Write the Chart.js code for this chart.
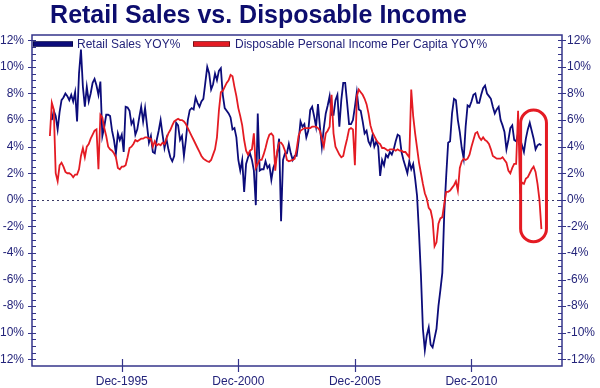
<!DOCTYPE html>
<html><head><meta charset="utf-8">
<script src="https://cdn.jsdelivr.net/npm/chart.js@4/dist/chart.umd.min.js"></script>
<style>html,body{margin:0;padding:0;background:#fff}#wrap{width:600px;height:388px;position:relative}</style>
</head><body><div id="wrap"><canvas id="c" width="600" height="388"></canvas></div>
<script>
const chartTitle = 'Retail Sales vs. Disposable Income';
const seriesNames = ['Retail Sales YOY%', 'Disposable Personal Income Per Capita YOY%'];
const firstMonth = 'Nov-1992';
// monthly values, Nov-1992 .. Dec-2013
const retailSales = [
  null, 6.0,
  6.7, 6.3, 5.3, 6.6, 7.5, 7.7, 8.0, 7.8, 7.5, 7.9, 7.4, 8.1,
  5.9, 9.5, 11.3, 8.5, 7.0, 8.5, 7.4, 8.0, 8.8, 9.1, 8.6, 7.9,
  8.9, 4.8, 5.5, 6.4, 6.4, 6.3, 5.2, 4.5, 3.5, 5.0, 4.5, 4.9,
  3.6, 7.0, 6.95, 6.7, 5.7, 6.0, 4.9, 5.3, 6.2, 7.0, 5.9, 6.9,
  5.6, 4.3, 4.8, 3.6, 3.5, 4.5, 5.2, 6.0, 4.9, 3.9, 4.6, 3.8,
  3.2, 2.9, 3.3, 5.8, 5.6, 4.5, 4.8, 3.3, 4.5, 6.0, 6.75, 6.9,
  6.8, 7.7, 7.3, 7.0, 7.4, 7.6, 8.8, 10.0, 9.5, 8.3, 8.7, 9.5,
  9.0, 9.7, 9.9, 7.9, 6.9, 6.7, 6.5, 6.2, 5.3, 5.4, 4.7, 3.0,
  2.2, 3.0, 0.6, 2.7, 3.2, 3.5, 3.0, 2.2, -0.4, 6.5, 2.2, 2.3,
  2.3, 2.9, 2.4, 2.6, 1.5, 2.4, 2.8, 3.5, 4.6, -1.6, 3.0, 3.5,
  3.5, 4.2, 3.5, 3.0, 3.3, 3.3, 4.4, 5.9, 5.5, 5.7, 4.7, 5.2,
  6.75, 7.0, 6.3, 5.5, 7.2, 5.5, 4.0, 5.4, 6.5, 7.1, 7.8, 6.4,
  6.4, 7.5, 7.9, 5.5, 7.5, 8.8, 8.8, 7.3, 5.7, 5.7, 6.0, 7.0,
  8.1, 6.8, 6.7, 5.9, 5.0, 5.2, 4.4, 4.1, 4.8, 4.0, 4.4, 4.0,
  1.8, 3.0, 2.6, 3.4, 3.2, 3.6, 3.4, 3.8, 4.4, 4.9, 4.8, 3.6,
  3.0, 2.5, 2.0, 2.9, 2.3, 2.7, 1.6, 0.3, -2.5, -5.7, -9.7, -11.3,
  -10.2, -9.6, -10.9, -11.1, -10.4, -9.7, -8.0, -6.8, -5.5, -1.0, 1.8, 4.3,
  4.4, 6.5, 7.6, 7.5, 6.0, 5.1, 3.9, 3.1, 5.5, 7.1, 7.0, 7.4,
  7.9, 8.0, 7.3, 7.3, 7.9, 8.4, 8.6, 8.0, 7.8, 7.6, 7.0, 6.5,
  6.8, 7.0, 6.0, 5.6, 5.1, 3.8, 4.5, 5.4, 5.6, 4.5, 4.4, 5.0,
  4.6, 4.1, 3.6, 4.6, 5.3, 5.8, 5.2, 4.6, 3.8, 4.1, 4.2, 4.1
];
const disposableIncome = [
  4.8, 7.3,
  6.8, 2.0, 1.4, 2.6, 2.8, 2.5, 2.1, 2.0, 2.0, 1.9, 1.7, 1.9,
  1.9, 2.3, 3.3, 3.9, 3.2, 4.0, 4.2, 4.6, 4.9, 5.2, 5.3, 2.3,
  6.4, 6.2, 5.4, 4.8, 4.0, 3.8, 3.7, 3.5, 3.2, 2.4, 2.3, 2.5,
  2.5, 2.6, 3.2, 3.9, 4.0, 4.2, 4.5, 4.4, 4.5, 4.6, 4.6, 4.7,
  4.7, 4.6, 4.6, 4.0, 4.4, 4.1, 4.2, 4.1, 4.3, 4.2, 4.6, 5.0,
  5.25, 5.6, 5.9, 6.0, 6.1, 6.0, 6.0, 5.9, 5.7, 5.4, 5.1, 4.8,
  4.5, 4.2, 3.9, 3.6, 3.3, 3.1, 3.0, 2.9, 2.85, 3.0, 3.4, 3.8,
  4.7, 6.7, 8.1, 8.2, 8.5, 8.8, 9.0, 9.4, 9.3, 8.5, 7.8, 6.9,
  6.3, 5.6, 4.5, 3.7, 3.4, 3.7, 3.8, 5.0, 2.4, 2.7, 3.0, 3.0,
  3.4, 3.9, 4.5, 4.9, 5.0, 4.8, 2.2, 3.6, 4.3, 4.3, 4.1, 3.7,
  3.0, 2.9, 2.95, 3.0, 3.1, 3.8, 4.8, 5.2, 5.3, 5.4, 5.4, 5.4,
  5.4, 5.5, 5.5, 5.5, 5.4, 5.2, 4.6, 4.0, 5.0, 5.2, 5.5, 7.9,
  5.0, 4.0, 3.7, 3.4, 3.2, 3.3, 4.0, 4.6, 5.3, 5.4, 5.3, 2.6,
  7.8, 8.3, 8.1, 7.9, 7.6, 7.2, 6.5, 5.6, 5.1, 4.8, 4.5, 4.3,
  4.2, 3.9, 3.9, 3.8, 3.7, 3.8, 3.8, 3.8, 3.7, 3.8, 3.7, 3.7,
  3.6, 3.6, 3.4, 3.2, 8.3, 6.3, 5.0, 3.9, 2.8, 2.0, 1.2, 0.5,
  0.1, -0.6, -0.8, -1.5, -3.5, -3.2, -1.8, -1.4, -1.3, -0.3, 0.6, 0.6,
  0.7, 0.9, 1.1, 1.4, 0.7, 2.4, 2.9, 3.1, 3.0, 3.1, 3.4, 4.0,
  4.5, 5.0, 5.1, 4.7, 4.5, 4.7, 4.5, 4.4, 4.2, 3.8, 3.3, 3.2,
  3.1, 3.1, 3.1, 3.2, 3.0, 2.8, 2.2, 2.0, 2.4, 2.7, 2.7, 6.7,
  0.8, 1.3, 1.2, 1.6, 1.7, 2.0, 2.3, 2.5, 2.1, 1.2, 0.0, -2.2
];
const xTickLabels = ['Dec-1995', 'Dec-2000', 'Dec-2005', 'Dec-2010'];
const yTickValues = [-12, -10, -8, -6, -4, -2, 0, 2, 4, 6, 8, 10, 12];

const MONTHS = ['Jan','Feb','Mar','Apr','May','Jun','Jul','Aug','Sep','Oct','Nov','Dec'];
function monthIndex(lbl){ const p = lbl.split('-'); return (+p[1]) * 12 + MONTHS.indexOf(p[0]); }
const start = monthIndex(firstMonth);
const xTickValues = xTickLabels.map(l => monthIndex(l) - start);
const toPoints = arr => arr.map((v, i) => ({x: i, y: v}));

const NAVY = '#0c0c7a', RED = '#e41b23', AXIS = '#34348a', TEXT = '#23237a';
const FONT = '"Liberation Sans", Arial, sans-serif';
// annotation capsule around the latest readings (data coordinates)
const highlight = {x0: monthIndex('Jan-2013') - start + 0.3, x1: monthIndex('Jan-2014') - start + 1.6, yTop: 6.75, yBottom: -3.15};

const decor = {
  id: 'decor',
  beforeDatasetsDraw(chart) {
    const {ctx, chartArea: a, scales: {y}} = chart;
    const y0 = Math.round(y.getPixelForValue(0)) + 0.5;
    ctx.save();
    ctx.setLineDash([2, 3]);
    ctx.strokeStyle = '#3a3a66';
    ctx.lineWidth = 1;
    ctx.beginPath(); ctx.moveTo(a.left, y0); ctx.lineTo(a.right, y0); ctx.stroke();
    ctx.restore();
  },
  afterDatasetsDraw(chart) {
    const {ctx, chartArea: a, scales: {x, y}} = chart;
    ctx.save();
    // frame
    ctx.strokeStyle = AXIS; ctx.lineWidth = 1.5;
    ctx.strokeRect(a.left, a.top, a.right - a.left, a.bottom - a.top);
    // y tick marks (both sides)
    ctx.lineWidth = 1.2;
    ctx.beginPath();
    for (let v = -12; v <= 12.001; v += 0.5) {
      const py = Math.round(y.getPixelForValue(v)) + 0.5;
      const major = Math.abs(v % 2) < 1e-6;
      ctx.moveTo(a.left - (major ? 4 : 0), py); ctx.lineTo(a.left + 4, py);
      ctx.moveTo(a.right - 4, py); ctx.lineTo(a.right + (major ? 4 : 0), py);
    }
    xTickValues.forEach(v => {
      const px = Math.round(x.getPixelForValue(v)) + 0.5;
      ctx.moveTo(px, a.bottom - 7); ctx.lineTo(px, a.bottom + 6);
    });
    ctx.stroke();
    // legend
    const ly = 44;
    ctx.fillStyle = '#06064a';
    ctx.fillRect(33, ly - 2.8, 40, 5.6);
    ctx.fillStyle = NAVY;
    ctx.fillRect(34, ly - 2, 38, 4);
    ctx.fillStyle = '#7a0a10';
    ctx.fillRect(193, ly - 2.8, 37, 5.6);
    ctx.fillStyle = RED;
    ctx.fillRect(194, ly - 2, 35, 4);
    ctx.font = '12px ' + FONT;
    ctx.fillStyle = TEXT;
    ctx.textBaseline = 'middle';
    ctx.textAlign = 'left';
    ctx.fillText(seriesNames[0], 77, ly + 0.5);
    ctx.fillText(seriesNames[1], 235, ly + 0.5);
    // highlight capsule
    const L = x.getPixelForValue(highlight.x0), R = x.getPixelForValue(highlight.x1);
    const T = y.getPixelForValue(highlight.yTop), B = y.getPixelForValue(highlight.yBottom);
    const r = (R - L) / 2;
    ctx.strokeStyle = RED; ctx.lineWidth = 3;
    ctx.beginPath();
    ctx.moveTo(L, T + r);
    ctx.arc(L + r, T + r, r, Math.PI, 0);
    ctx.lineTo(R, B - r);
    ctx.arc(L + r, B - r, r, 0, Math.PI);
    ctx.closePath();
    ctx.stroke();
    // title
    ctx.font = 'bold 25px ' + FONT;
    ctx.fillStyle = '#0d0d6e';
    ctx.textAlign = 'center';
    ctx.textBaseline = 'alphabetic';
    ctx.fillText(chartTitle, 258.5, 23);
    ctx.restore();
  }
};

const yTicksCommon = {
  color: TEXT, font: {family: FONT, size: 12},
  callback: v => v + '%'
};

new Chart(document.getElementById('c'), {
  type: 'line',
  data: {
    datasets: [
      {label: seriesNames[1], data: toPoints(disposableIncome), borderColor: RED, borderWidth: 1.8,
       pointRadius: 0, tension: 0, fill: false, order: 0, yAxisID: 'y'},
      {label: seriesNames[0], data: toPoints(retailSales), borderColor: NAVY, borderWidth: 1.8,
       pointRadius: 0, tension: 0, fill: false, order: 1, yAxisID: 'y'}
    ]
  },
  options: {
    responsive: false, animation: false, devicePixelRatio: 1,
    layout: {padding: {top: 35, left: 0, right: 0, bottom: 0}},
    plugins: {legend: {display: false}, title: {display: false}, tooltip: {enabled: false}},
    scales: {
      x: {
        type: 'linear', position: 'bottom', min: -9.2, max: 263.6,
        grid: {display: false, drawTicks: false}, border: {display: false},
        afterBuildTicks: s => { s.ticks = xTickValues.map(v => ({value: v})); },
        afterFit: s => { s.height = 22; },
        ticks: {color: TEXT, font: {family: FONT, size: 12}, padding: 8, maxRotation: 0, autoSkip: false,
                callback: (v) => xTickLabels[xTickValues.indexOf(v)] || ''}
      },
      y: {
        position: 'left', min: -12.5, max: 12.4,
        grid: {display: false, drawTicks: false}, border: {display: false},
        afterBuildTicks: s => { s.ticks = yTickValues.map(v => ({value: v})); },
        afterFit: s => { s.width = 32; },
        ticks: Object.assign({padding: 8}, yTicksCommon)
      },
      y2: {
        display: true, position: 'right', min: -12.5, max: 12.4,
        grid: {display: false, drawTicks: false}, border: {display: false},
        afterBuildTicks: s => { s.ticks = yTickValues.map(v => ({value: v})); },
        afterFit: s => { s.width = 38; },
        ticks: Object.assign({padding: 5}, yTicksCommon)
      }
    }
  },
  plugins: [decor]
});
</script>
</body></html>
